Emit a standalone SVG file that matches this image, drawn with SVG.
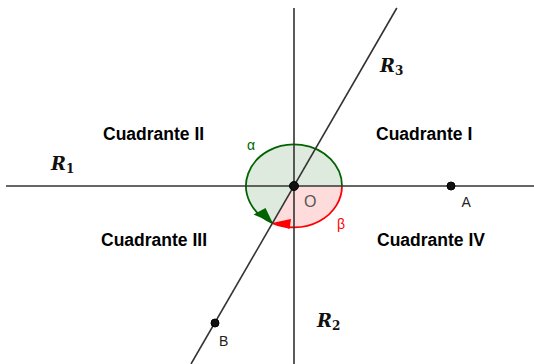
<svg xmlns="http://www.w3.org/2000/svg" width="534" height="364" viewBox="0 0 534 364">
<style>
.axis{stroke:#333;stroke-width:1.6;fill:none}
.quad{font-family:"Liberation Sans",Arial,sans-serif;font-weight:bold;font-size:17.5px;fill:#000}
.rl{font-family:"DejaVu Serif","Liberation Serif",serif;font-weight:bold;font-style:italic;font-size:18px;fill:#111}
.sub{font-size:12px;font-style:normal}
.pl{font-family:"Liberation Sans",Arial,sans-serif;font-size:14px;fill:#222}
.pt{fill:#111;stroke:#000;stroke-width:1}
</style>
<rect width="534" height="364" fill="#fff"/>
<g id="angles">
<path id="alpha-sector" d="M294,186 L272.6,223.1 A48,41.5 0 1 1 342,186 Z" fill="#dfeadf" stroke="none"/>
<path id="beta-sector" d="M294,186 L342,186 A48,41.5 0 0 1 272.6,223.1 Z" fill="#ffdcdc" stroke="none"/>
<path d="M272.6,223.1 A48,41.5 0 1 1 342,186" fill="none" stroke="#006400" stroke-width="1.8"/>
<path d="M342,186 A48,41.5 0 0 1 272.6,223.1" fill="none" stroke="#ff0000" stroke-width="1.8"/>
</g>
<g id="connectors">
<line class="axis" x1="6" y1="186" x2="534" y2="186"/>
<line class="axis" x1="294" y1="8" x2="294" y2="364"/>
<line class="axis" x1="396.8" y1="8" x2="191" y2="364"/>
</g>
<g id="arrows">
<polygon points="253.5,214.5 265.5,208 272.5,222.5" fill="#006400"/>
<polygon points="273.3,222.7 291,219 289.5,229" fill="#ff0000"/>
</g>
<g id="O"><circle class="pt" cx="294" cy="186" r="4.5" fill="#444"/><text x="304" y="207" class="pl" style="font-size:16px;fill:#555">O</text></g>
<g id="A"><circle class="pt" cx="451" cy="186" r="4"/><text x="461.5" y="207" class="pl">A</text></g>
<g id="B"><circle class="pt" cx="215" cy="323" r="4"/><text x="219" y="346" class="pl">B</text></g>
<g id="labels">
<text x="247" y="150" style="font-family:'Liberation Sans',Arial,sans-serif;font-size:14px;fill:#006400">α</text>
<text x="337" y="229" style="font-family:'Liberation Sans',Arial,sans-serif;font-size:14px;fill:#ff0000">β</text>
<text class="quad" x="103" y="140">Cuadrante II</text>
<text class="quad" x="376" y="140">Cuadrante I</text>
<text class="quad" x="101" y="246">Cuadrante III</text>
<text class="quad" x="377" y="246">Cuadrante IV</text>
<text class="rl" x="51" y="170">R<tspan class="sub" dy="3">1</tspan></text>
<text class="rl" x="380" y="72">R<tspan class="sub" dy="3">3</tspan></text>
<text class="rl" x="317" y="327">R<tspan class="sub" dy="3">2</tspan></text>
</g>
</svg>
